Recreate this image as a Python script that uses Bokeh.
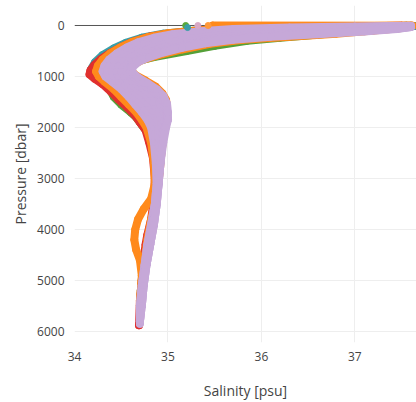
from bokeh.plotting import figure
from bokeh.models import Range1d, FixedTicker, Span
from bokeh.embed import file_html
from bokeh.resources import INLINE

x_ticks = [34, 35, 36, 37]
y_ticks = [0, 1000, 2000, 3000, 4000, 5000, 6000]

# --- profiles: salinity [psu] and pressure [dbar] ---
teal_sal = [37.66, 37.3, 36.6, 35.9, 35.3, 34.95, 34.72, 34.55, 34.42, 34.3, 34.22, 34.18, 34.2, 34.26]
teal_pres = [8, 15, 30, 55, 100, 160, 240, 340, 450, 580, 720, 850, 950, 1060]

green_sal = [37.55, 37.3, 36.8, 36.2, 35.85, 35.5, 35.2, 34.85, 34.57, 34.42, 34.35, 34.33, 34.36, 34.42, 34.5, 34.6, 34.66, 34.72, 34.78, 34.83, 34.87, 34.88, 34.85, 34.8, 34.76, 34.73, 34.71, 34.70]
green_pres = [5, 60, 150, 240, 300, 400, 500, 620, 740, 850, 950, 1050, 1200, 1400, 1550, 1700, 1800, 1950, 2100, 2400, 2800, 3200, 3600, 4000, 4400, 4800, 5200, 5500]

red_sal = [37.5, 36.8, 36.0, 35.4, 35.05, 34.8, 34.62, 34.5, 34.38, 34.28, 34.21, 34.17, 34.16, 34.22, 34.3, 34.39, 34.47, 34.56, 34.64, 34.7, 34.76, 34.8, 34.84, 34.86, 34.85, 34.82, 34.78, 34.76, 34.74, 34.72, 34.7, 34.69]
red_pres = [5, 25, 50, 90, 150, 220, 320, 420, 540, 660, 780, 880, 960, 1050, 1150, 1300, 1450, 1600, 1750, 1900, 2050, 2300, 2600, 3000, 3400, 3800, 4100, 4300, 4600, 5000, 5400, 5880]

orange_up_sal = [37.6, 37.2, 36.5, 35.8, 35.3, 35.0, 34.78, 34.62, 34.49, 34.38, 34.3, 34.25, 34.23, 34.26, 34.32, 34.42, 34.5, 34.58, 34.66, 34.72, 34.77, 34.82, 34.85, 34.86, 34.82, 34.74, 34.68, 34.65, 34.64, 34.66, 34.7, 34.72, 34.71, 34.70]
orange_up_pres = [0, 10, 25, 50, 100, 150, 230, 320, 430, 550, 670, 790, 900, 1000, 1100, 1250, 1400, 1550, 1700, 1850, 2000, 2300, 2700, 3100, 3400, 3600, 3800, 4000, 4200, 4400, 4600, 4900, 5300, 5600]

orange_in_sal = [35.48, 37.62, 37.5, 37.2, 36.8, 36.3, 35.8, 35.45, 35.15, 34.9, 34.72, 34.62, 34.6, 34.65, 34.76, 34.87, 34.94, 34.98, 34.99, 34.99, 34.97, 34.95, 34.93, 34.91, 34.89, 34.86, 34.82, 34.78, 34.75, 34.72, 34.70]
orange_in_pres = [0, 5, 50, 100, 160, 220, 280, 360, 470, 580, 680, 780, 870, 970, 1080, 1200, 1330, 1460, 1600, 1800, 2000, 2200, 2500, 2900, 3200, 3500, 3800, 4200, 4600, 5000, 5400]

lav1_sal = [37.6, 37.0, 36.3, 35.7, 35.3, 35.05, 34.85, 34.68, 34.56, 34.45, 34.37, 34.32, 34.3, 34.33, 34.4, 34.5, 34.58, 34.65, 34.72, 34.78, 34.82, 34.85, 34.87, 34.88, 34.86, 34.82, 34.78, 34.75, 34.72, 34.7, 34.7]
lav1_pres = [5, 20, 40, 70, 120, 170, 240, 330, 430, 550, 670, 790, 900, 1000, 1100, 1250, 1400, 1550, 1700, 1850, 2000, 2300, 2700, 3100, 3500, 3900, 4300, 4700, 5100, 5500, 5800]

lav1b_sal = [37.6, 37.1, 36.45, 35.85, 35.4, 35.12, 34.92, 34.74, 34.62, 34.51, 34.42, 34.37, 34.35, 34.37, 34.45, 34.55, 34.64, 34.72, 34.78, 34.83, 34.86, 34.87, 34.88, 34.88, 34.86, 34.82, 34.78, 34.75, 34.72, 34.7, 34.7]
lav1b_pres = [8, 28, 55, 90, 140, 195, 265, 355, 450, 565, 680, 795, 900, 1000, 1100, 1240, 1385, 1535, 1690, 1850, 2000, 2300, 2700, 3100, 3500, 3900, 4300, 4700, 5100, 5500, 5800]

lav2_sal = [37.6, 37.2, 36.6, 36.0, 35.5, 35.2, 34.98, 34.8, 34.68, 34.57, 34.48, 34.42, 34.4, 34.42, 34.5, 34.6, 34.7, 34.78, 34.84, 34.88, 34.9, 34.9, 34.89, 34.89, 34.87, 34.83, 34.79, 34.76, 34.73, 34.71, 34.7]
lav2_pres = [10, 35, 70, 110, 160, 220, 290, 380, 470, 580, 690, 800, 900, 1000, 1100, 1230, 1370, 1520, 1680, 1850, 2000, 2300, 2700, 3100, 3500, 3900, 4300, 4700, 5100, 5500, 5800]

lav2b_sal = [37.6, 37.3, 36.75, 36.15, 35.65, 35.32, 35.08, 34.9, 34.76, 34.64, 34.54, 34.47, 34.45, 34.47, 34.56, 34.66, 34.76, 34.84, 34.9, 34.93, 34.93, 34.91, 34.9, 34.89, 34.87, 34.83, 34.79, 34.76, 34.73, 34.71, 34.7]
lav2b_pres = [15, 45, 85, 130, 180, 240, 310, 395, 485, 590, 695, 800, 900, 1000, 1100, 1225, 1360, 1510, 1665, 1825, 2000, 2300, 2700, 3100, 3500, 3900, 4300, 4700, 5100, 5500, 5820]

lav3_sal = [37.6, 37.4, 36.9, 36.3, 35.8, 35.45, 35.2, 35.0, 34.84, 34.7, 34.6, 34.53, 34.5, 34.53, 34.62, 34.72, 34.82, 34.9, 34.95, 34.97, 34.96, 34.93, 34.91, 34.9, 34.87, 34.84, 34.8, 34.76, 34.73, 34.71, 34.7]
lav3_pres = [20, 55, 100, 150, 200, 260, 330, 410, 500, 600, 700, 800, 900, 1000, 1100, 1220, 1350, 1500, 1650, 1800, 2000, 2300, 2700, 3100, 3500, 3900, 4300, 4700, 5100, 5500, 5850]

lav3b_sal = [37.6, 37.42, 37.0, 36.45, 35.95, 35.58, 35.3, 35.08, 34.9, 34.75, 34.64, 34.57, 34.56, 34.6, 34.7, 34.8, 34.89, 34.95, 34.98, 34.99, 34.97, 34.94, 34.92, 34.9, 34.88, 34.85, 34.81, 34.77, 34.74, 34.72, 34.7]
lav3b_pres = [25, 62, 110, 160, 210, 270, 340, 425, 515, 610, 710, 810, 910, 1010, 1115, 1235, 1365, 1515, 1675, 1825, 2000, 2300, 2700, 3100, 3500, 3900, 4300, 4700, 5100, 5500, 5800]

lav3c_sal = [37.6, 37.44, 37.05, 36.52, 36.02, 35.64, 35.35, 35.12, 34.92, 34.78, 34.66, 34.6, 34.59, 34.64, 34.74, 34.84, 34.92, 34.97, 34.99, 35.0, 34.97, 34.94, 34.92, 34.9, 34.88, 34.85, 34.81, 34.77, 34.74, 34.72, 34.7]
lav3c_pres = [28, 66, 115, 165, 215, 275, 345, 432, 522, 615, 715, 815, 915, 1015, 1122, 1242, 1372, 1522, 1688, 1838, 2000, 2300, 2700, 3100, 3500, 3900, 4300, 4700, 5100, 5500, 5800]

lav4_sal = [37.6, 37.45, 37.1, 36.6, 36.1, 35.7, 35.4, 35.15, 34.95, 34.8, 34.68, 34.62, 34.62, 34.68, 34.78, 34.88, 34.95, 34.99, 35.0, 35.0, 34.98, 34.95, 34.92, 34.9, 34.88, 34.85, 34.81, 34.77, 34.74, 34.72]
lav4_pres = [30, 70, 120, 170, 220, 280, 350, 440, 530, 620, 720, 820, 920, 1020, 1130, 1250, 1380, 1530, 1700, 1850, 2000, 2300, 2700, 3100, 3500, 3900, 4300, 4700, 5100, 5500]

# isolated surface samples
surf_sal = [35.19, 35.21, 35.32, 35.43]
surf_pres = [0, 40, 0, 0]
surf_color = ["#5aa83a", "#3a9fa8", "#d9a9c6", "#ff9a3c"]

ORANGE = "#ff8a1c"
LAV = "#c6a8d8"
profiles = [
    (teal_sal, teal_pres, "#3a9fa8"),
    (green_sal, green_pres, "#55a038"),
    (red_sal, red_pres, "#e0302e"),
    (orange_up_sal, orange_up_pres, ORANGE),
    (orange_in_sal, orange_in_pres, ORANGE),
    (lav1_sal, lav1_pres, LAV),
    (lav1b_sal, lav1b_pres, LAV),
    (lav2_sal, lav2_pres, LAV),
    (lav2b_sal, lav2b_pres, LAV),
    (lav3_sal, lav3_pres, LAV),
    (lav3b_sal, lav3b_pres, LAV),
    (lav3c_sal, lav3c_pres, LAV),
    (lav4_sal, lav4_pres, LAV),
]

p = figure(width=416, height=402, output_backend="svg", toolbar_location=None,
           x_range=Range1d(34.0, 37.66), y_range=Range1d(6216, -392),
           min_border_left=74, min_border_right=0, min_border_top=5, min_border_bottom=60)
p.outline_line_color = None
p.background_fill_color = "white"

p.add_layout(Span(location=0, dimension="width", line_color="#555555", line_width=1, level="underlay"))

for sal, pres, col in profiles:
    p.line(sal, pres, line_color=col, line_width=8, line_join="round", line_cap="round")
    p.scatter(sal, pres, size=7, fill_color=col, line_color=col)

p.scatter(surf_sal, surf_pres, size=6, fill_color=surf_color, line_color=surf_color)

for ax in (p.xaxis[0], p.yaxis[0]):
    ax.axis_line_color = None
    ax.major_tick_line_color = None
    ax.minor_tick_line_color = None
    ax.major_label_text_font = "Open Sans"
    ax.major_label_text_font_size = "12px"
    ax.major_label_text_color = "#444444"
    ax.axis_label_text_font = "Open Sans"
    ax.axis_label_text_font_size = "14px"
    ax.axis_label_text_color = "#444444"
    ax.axis_label_text_font_style = "normal"

p.xaxis.ticker = FixedTicker(ticks=x_ticks)
p.yaxis.ticker = FixedTicker(ticks=y_ticks)
p.xaxis.axis_label = "Salinity [psu]"
p.yaxis.axis_label = "Pressure [dbar]"
p.xaxis.major_label_standoff = 3
p.xaxis.axis_label_standoff = 17
p.yaxis.major_label_standoff = 4
p.yaxis.axis_label_standoff = 4

p.xgrid.grid_line_color = "#eeeeee"
p.ygrid.grid_line_color = "#eeeeee"
p.xgrid.ticker = FixedTicker(ticks=x_ticks)
p.ygrid.ticker = FixedTicker(ticks=[1000, 2000, 3000, 4000, 5000, 6000])

open("out.html", "w").write(file_html(p, INLINE))
